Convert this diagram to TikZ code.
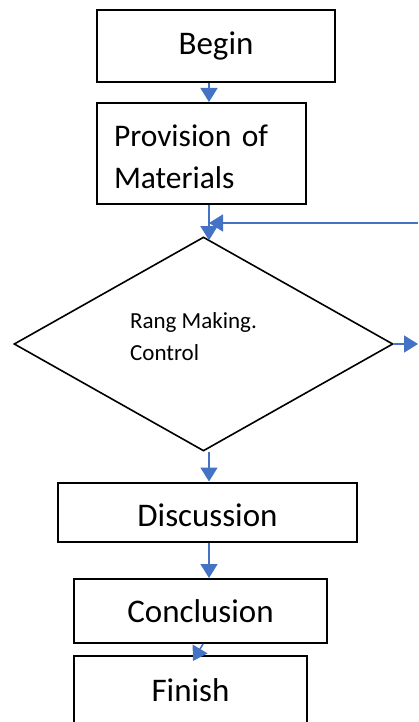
\documentclass[tikz,border=0pt]{standalone}
\usepackage{fontspec}
\setmainfont{Carlito}
\usetikzlibrary{shapes.geometric}
\usetikzlibrary{arrows.meta}

\definecolor{flowblue}{HTML}{4472C4}

\tikzset{
  stepbox/.style={draw=black, line width=2pt, rectangle, inner sep=0pt, font=\fontsize{33}{40}\selectfont},
  decision/.style={draw=black, line width=1.6pt, diamond, inner sep=0pt, font=\fontsize{23}{32}\selectfont},
  flow/.style={draw=flowblue, line width=1.6pt, -{Triangle[width=17pt,length=14pt]}, flowblue},
}

\begin{document}
\begin{tikzpicture}[x=1pt, y=-1pt]
      \useasboundingbox (0, 0) rectangle (418, 722);
      \clip (0, 0) rectangle (418, 722);

      \coordinate (spine) at (209, 0);
      \coordinate (loopin) at (418, 223);

      \node[stepbox, minimum width=238, minimum height=72] (begin) at (216, 46) {Begin};
      \node[stepbox, minimum width=209, minimum height=101, text width=175, align=left,
        font=\fontsize{31.5}{42}\selectfont] (prov) at (201.5, 153.5) {\rule{0pt}{29pt}Provision of\\Materials};
      \node[decision, minimum width=379, minimum height=214, align=left] (ctrl) at (203.5, 344)
        {Rang Making.\hspace*{20pt}\\Control\rule[-14pt]{0pt}{14pt}};
      \node[stepbox, minimum width=299, minimum height=59] (disc) at (207.5, 512) {\rule{0pt}{30pt}Discussion};
      \node[stepbox, minimum width=253, minimum height=64] (concl) at (200.5, 611) {Conclusion};
      \node[stepbox, minimum width=233, minimum height=80, text depth=12pt] (finish) at (190.5, 696) {Finish};

      \coordinate (loopout) at (ctrl.east -| loopin);

      \draw[flow] (begin.south -| spine) -- (prov.north -| spine);
      \draw[flow] (prov.south -| spine) -- ([yshift=-4pt]spine |- ctrl.north);
      \draw[flow] (loopin) -- (spine |- loopin);
      \draw[flow] (ctrl.east) -- (loopout);
      \draw[flow] (ctrl.south -| spine) -- (disc.north -| spine);
      \draw[flow] (disc.south -| spine) -- (concl.north -| spine);
      \draw[flow] (concl.south) ++(2.5, 0) -- ([xshift=2.5pt, yshift=-6pt]finish.north);
    \end{tikzpicture}
\end{document}
